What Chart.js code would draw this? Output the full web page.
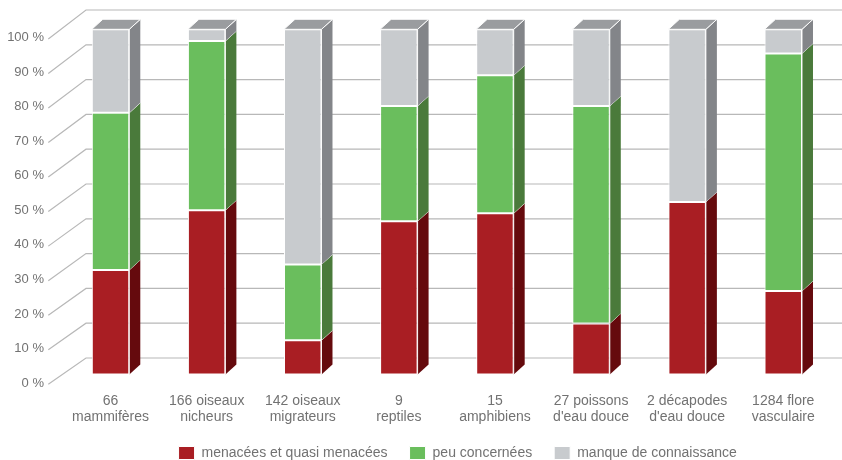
<!DOCTYPE html>
<html><head><meta charset="utf-8">
<script src="https://cdn.jsdelivr.net/npm/chart.js@4/dist/chart.umd.min.js"></script>
<style>html,body{margin:0;padding:0;background:#fff}#wrap{width:842px;height:460px;position:relative}</style>
</head><body><div id="wrap"><canvas id="c"></canvas></div>
<script>
const categories = [['66','mammifères'], ['166 oiseaux','nicheurs'], ['142 oiseaux','migrateurs'], ['9','reptiles'], ['15','amphibiens'], ['27 poissons',"d'eau douce"], ['2 décapodes',"d'eau douce"], ['1284 flore','vasculaire']];
const menacees = [30.3, 47.6, 9.9, 44.4, 46.7, 14.8, 50, 24.2];
const peuConcernees = [45.5, 49, 22, 33.4, 40, 63, 0, 68.8];
const manqueConnaissance = [24.2, 3.4, 68.1, 22.2, 13.3, 22.2, 50, 7];
const yTicks = [0, 10, 20, 30, 40, 50, 60, 70, 80, 90, 100];
const seriesNames = ['menacées et quasi menacées', 'peu concernées', 'manque de connaissance'];
const seriesValues = [menacees, peuConcernees, manqueConnaissance];

const frontColors = ['#a91e23', '#6abe5d', '#c8cbce'];
const sideColors = ['#650a0d', '#4a7a3b', '#838589'];
const topColors = ['#7d1418', '#5d9a4f', '#9a9c9f'];
const textColor = '#727272';
const FONT = "'Liberation Sans', Arial, sans-serif";
const DX = 11, DY = -10;
const WALL = {topShift: -19.3, bottomShift: -16.5, left: 23.5, diagStart: -14.2, diagDrop: 9.7};
const LEGEND_SHIFT = {x: 42, y: 10};

const backWall = {
  id: 'backWall',
  beforeDatasetsDraw(chart) {
    const {ctx, chartArea: a, scales: {y}} = chart;
    const bt = a.top + WALL.topShift, bb = a.bottom + WALL.bottomShift;
    ctx.save();
    ctx.strokeStyle = '#b8b8b8';
    ctx.lineWidth = 1.2;
    yTicks.forEach(v => {
      const fy = y.getPixelForValue(v);
      const by = bt + (fy - a.top) * (bb - bt) / (a.bottom - a.top);
      ctx.beginPath();
      ctx.moveTo(a.left + WALL.diagStart, fy + WALL.diagDrop);
      ctx.lineTo(a.left + WALL.left, by);
      ctx.lineTo(chart.width, by);
      ctx.stroke();
    });
    ctx.restore();
  }
};

const bars3d = {
  id: 'bars3d',
  afterDatasetsDraw(chart) {
    const {ctx} = chart;
    const n = chart.data.labels.length;
    ctx.save();
    ctx.lineWidth = 1;
    ctx.strokeStyle = 'rgba(255,255,255,0.95)';
    for (let j = 0; j < n; j++) {
      let topMost = null;
      chart.data.datasets.forEach((ds, i) => {
        const el = chart.getDatasetMeta(i).data[j];
        if (!el) return;
        const t = Math.min(el.y, el.base), b = Math.max(el.y, el.base);
        if (b - t < 0.5) return;
        const r = el.x + el.width / 2;
        ctx.fillStyle = sideColors[i];
        ctx.beginPath();
        ctx.moveTo(r, t); ctx.lineTo(r + DX, t + DY); ctx.lineTo(r + DX, b + DY); ctx.lineTo(r, b);
        ctx.closePath();
        ctx.fill();
        ctx.beginPath();
        ctx.moveTo(r + DX, t + DY); ctx.lineTo(r, t); ctx.lineTo(r, b);
        ctx.stroke();
        if (!topMost || t < topMost.t) topMost = {i, el, t};
      });
      if (topMost) {
        const {el, t, i} = topMost;
        const l = el.x - el.width / 2, r = el.x + el.width / 2;
        ctx.fillStyle = topColors[i];
        ctx.beginPath();
        ctx.moveTo(l, t); ctx.lineTo(l + DX, t + DY); ctx.lineTo(r + DX, t + DY); ctx.lineTo(r, t);
        ctx.closePath();
        ctx.fill();
        ctx.stroke();
      }
    }
    ctx.restore();
  }
};

const layoutTweak = {
  id: 'layoutTweak',
  afterLayout(chart) {
    const lg = chart.legend;
    lg.left += LEGEND_SHIFT.x; lg.right += LEGEND_SHIFT.x;
    lg.top += LEGEND_SHIFT.y; lg.bottom += LEGEND_SHIFT.y;
    chart.scales.x.bottom += 15;
  }
};

new Chart(document.getElementById('c'), {
  type: 'bar',
  data: {
    labels: categories,
    datasets: seriesNames.map((name, i) => ({
      label: name,
      data: seriesValues[i],
      backgroundColor: frontColors[i],
      borderColor: '#ffffff',
      borderWidth: 1,
      borderSkipped: false,
      barPercentage: 0.39,
      categoryPercentage: 1
    }))
  },
  options: {
    responsive: true,
    maintainAspectRatio: false,
    animation: false,
    layout: {padding: {top: 29.3, left: 0, right: 10.7, bottom: 0}},
    scales: {
      x: {
        stacked: true,
        grid: {display: false, drawTicks: false},
        border: {display: false},
        ticks: {color: textColor, font: {family: FONT, size: 14, lineHeight: 1.15}, padding: 18.5, maxRotation: 0, autoSkip: false},
        afterFit(s) { s.height = 39.5; }
      },
      y: {
        stacked: true,
        min: 0, max: 100,
        grid: {display: false, drawTicks: false},
        border: {display: false},
        afterBuildTicks(s) { s.ticks = yTicks.map(v => ({value: v})); },
        ticks: {color: textColor, font: {family: FONT, size: 13}, padding: 18.5, labelOffset: 8.5, callback: v => v + ' %'},
        afterFit(s) { s.width = 62.5; }
      }
    },
    plugins: {
      legend: {
        position: 'bottom',
        labels: {boxWidth: 16, boxHeight: 13, padding: 22, color: textColor, font: {family: FONT, size: 14}}
      },
      tooltip: {enabled: false}
    }
  },
  plugins: [backWall, bars3d, layoutTweak]
});
</script>
</body></html>
